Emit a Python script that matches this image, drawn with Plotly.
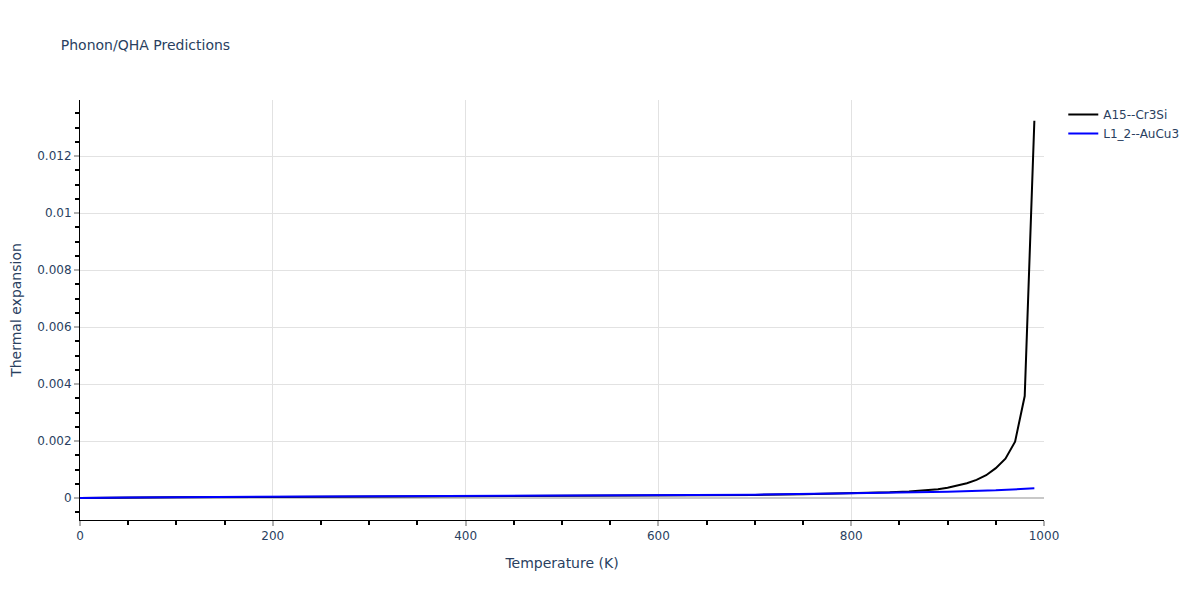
import plotly.graph_objects as go

# Temperatures (K)
temp_cr3si = [0, 20, 50, 100, 200, 300, 400, 500, 600, 700, 750, 800, 820, 840, 860,
              880, 890, 900, 910, 920, 930, 940, 950, 960, 970, 980, 990]
alpha_cr3si = [0.0, 0.000008, 0.000018, 0.000028, 0.00004, 0.00005, 0.00006, 0.000075,
               0.00009, 0.00011, 0.000135, 0.000165, 0.00018, 0.0002, 0.00023,
               0.00028, 0.00031, 0.00036, 0.00043, 0.00052, 0.00064, 0.0008,
               0.00105, 0.00138, 0.00198, 0.00358, 0.01324]

temp_aucu3 = [0, 20, 50, 100, 200, 300, 400, 500, 600, 700, 800, 850, 900, 950, 990]
alpha_aucu3 = [0.0, 0.000012, 0.000022, 0.000032, 0.000043, 0.000052, 0.00006, 0.000072,
               0.000088, 0.00012, 0.000165, 0.00019, 0.00022, 0.00027, 0.00034]

names = ["A15--Cr3Si", "L1_2--AuCu3"]
colors = ["black", "blue"]

FONT = "DejaVu Sans"

fig = go.Figure()
fig.add_trace(go.Scatter(x=temp_cr3si, y=alpha_cr3si, mode="lines", name=names[0],
                         line=dict(color=colors[0], width=2)))
fig.add_trace(go.Scatter(x=temp_aucu3, y=alpha_aucu3, mode="lines", name=names[1],
                         line=dict(color=colors[1], width=2)))

axis_common = dict(
    showline=True, linecolor="black", linewidth=1,
    showgrid=True, gridcolor="#e2e2e2", gridwidth=1,
    ticks="outside", ticklen=5, tickcolor="#b0b0b0", tickwidth=2,
    zeroline=True, zerolinecolor="#c8c8c8", zerolinewidth=2,
    tickfont=dict(color="#2a3f5f", size=12),
    automargin=False,
)

fig.update_layout(
    template="plotly_white",
    width=1200, height=600,
    font=dict(family=FONT, color="#2a3f5f"),
    margin=dict(l=72, r=164, t=92, b=88),
    title=dict(text="Phonon/QHA Predictions", font=dict(size=14, color="#2a3f5f"),
               x=0.044, y=0.938, yanchor="middle"),
    xaxis=dict(title=dict(text="Temperature (K)", font=dict(size=14, color="#2a3f5f")),
               range=[0, 1000], dtick=200,
               minor=dict(ticks="outside", ticklen=4, tickcolor="black", dtick=50, showgrid=False),
               **axis_common),
    yaxis=dict(title=dict(text="Thermal expansion", font=dict(size=14, color="#2a3f5f")),
               range=[-0.00077, 0.01397], dtick=0.002,
               minor=dict(ticks="outside", ticklen=4, tickcolor="black", dtick=0.0005, showgrid=False),
               **axis_common),
    legend=dict(font=dict(size=12, color="#2a3f5f")),
    plot_bgcolor="white", paper_bgcolor="white",
)

fig.write_html("out.html")
